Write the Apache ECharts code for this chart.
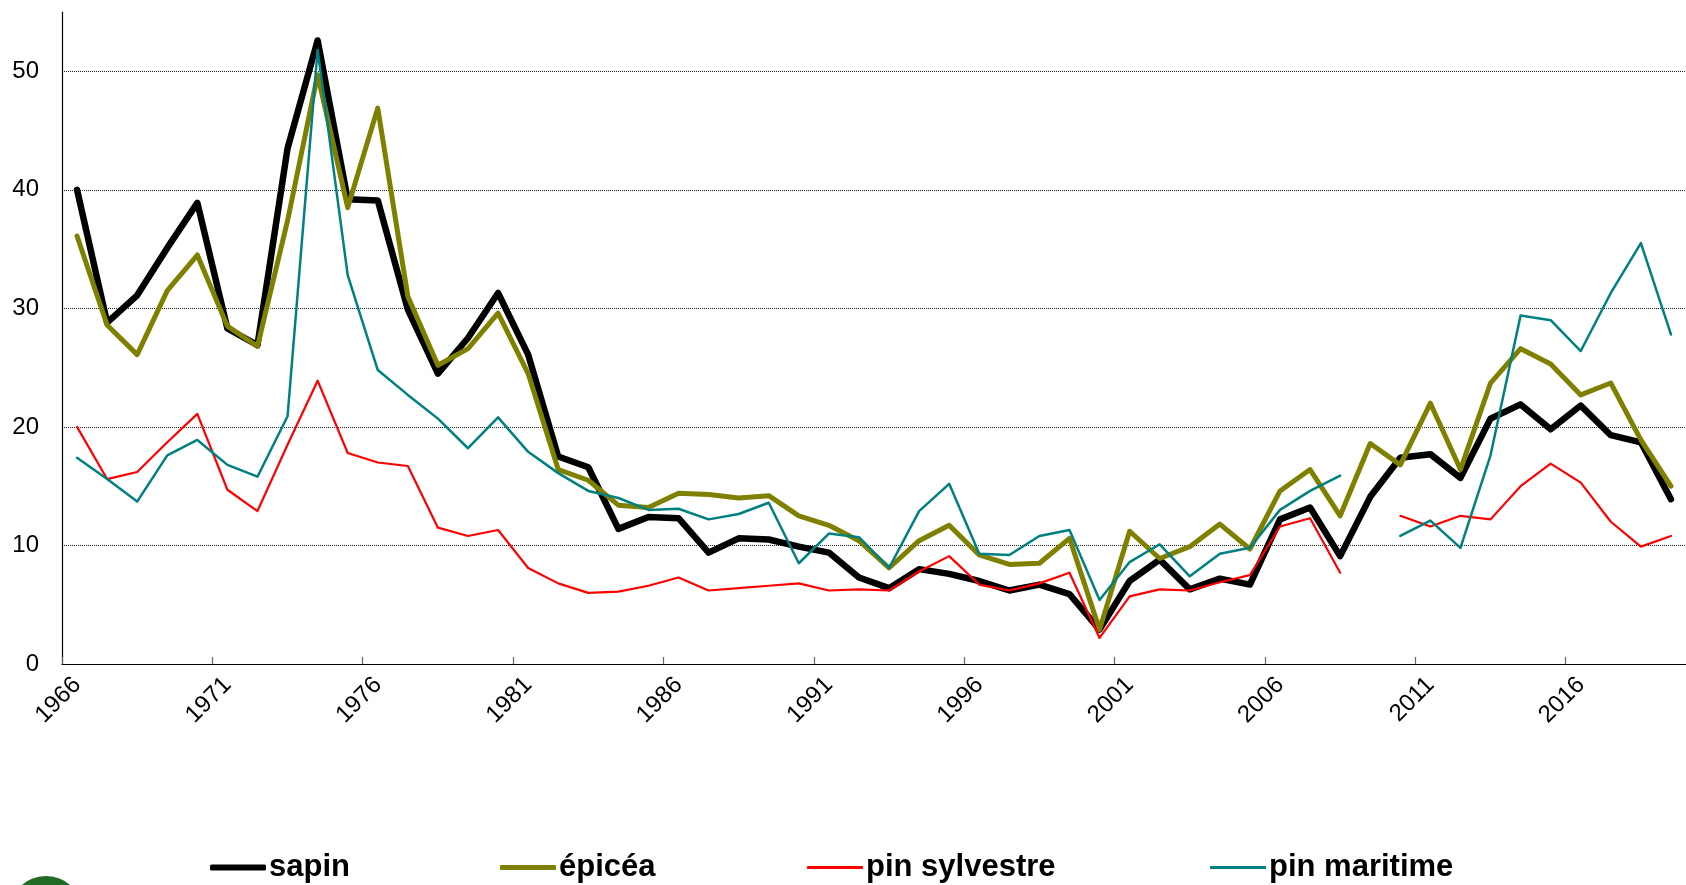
<!DOCTYPE html>
<html>
<head>
<meta charset="utf-8">
<script src="https://cdn.jsdelivr.net/npm/echarts@6/dist/echarts.min.js"></script>
<style>
html, body { margin: 0; padding: 0; background: #fff; overflow: hidden; }
#chart { width: 1686px; height: 885px; }
</style>
</head>
<body>
<div id="chart"></div>
<script>
// years 1966 -> 2019
const years = []
for (let y = 1966; y <= 2019; y++) years.push(y)

const sapin = [
  40.0, 28.8, 31.1, 35.1, 38.9, 28.3, 26.9, 43.5, 52.6, 39.2,
  39.1, 29.9, 24.5, 27.5, 31.3, 26.1, 17.5, 16.6, 11.4, 12.4,
  12.3, 9.4, 10.6, 10.5, 9.9, 9.4, 7.3, 6.4, 8.0, 7.6,
  7.0, 6.2, 6.7, 5.9, 2.9, 7.0, 8.8, 6.3, 7.2, 6.7,
  12.2, 13.2, 9.1, 14.1, 17.4, 17.7, 15.7, 20.7, 21.9, 19.8,
  21.8, 19.3, 18.7, 13.9
]
const epicea = [
  36.1, 28.6, 26.1, 31.5, 34.5, 28.5, 26.8, 37.4, 49.7, 38.5,
  46.9, 31.0, 25.2, 26.6, 29.6, 24.5, 16.4, 15.5, 13.4, 13.2,
  14.4, 14.3, 14.0, 14.2, 12.5, 11.7, 10.4, 8.1, 10.4, 11.7,
  9.2, 8.4, 8.5, 10.6, 2.9, 11.2, 8.9, 9.9, 11.8, 9.7,
  14.6, 16.4, 12.5, 18.6, 16.8, 22.0, 16.4, 23.7, 26.6, 25.3,
  22.7, 23.7, 18.9, 15.0
]
const pinSylvestre = [
  20.0, 15.6, 16.2, 18.7, 21.1, 14.7, 12.9, 18.5, 23.9, 17.8,
  17.0, 16.7, 11.5, 10.8, 11.3, 8.1, 6.8, 6.0, 6.1, 6.6,
  7.3, 6.2, 6.4, 6.6, 6.8, 6.2, 6.3, 6.2, 7.8, 9.1,
  6.7, 6.2, 6.8, 7.7, 2.2, 5.7, 6.3, 6.2, 6.9, 7.5,
  11.6, 12.3, 7.7, null, 12.5, 11.6, 12.5, 12.2, 15.0, 16.9,
  15.3, 12.0, 9.9, 10.8
]
const pinMaritime = [
  17.4, 15.6, 13.7, 17.6, 18.9, 16.8, 15.8, 20.9, 51.8, 32.8,
  24.8, 22.7, 20.7, 18.2, 20.8, 17.9, 16.1, 14.6, 14.0, 13.0,
  13.1, 12.2, 12.65, 13.6, 8.5, 11.0, 10.7, 8.1, 12.9, 15.2,
  9.3, 9.2, 10.8, 11.3, 5.4, 8.6, 10.1, 7.4, 9.3, 9.8,
  13.0, 14.6, 15.9, null, 10.8, 12.1, 9.8, 17.6, 29.4, 29.0,
  26.4, 31.3, 35.5, 27.8
]
const yTicks = [0, 10, 20, 30, 40, 50]

const names = ['sapin', 'épicéa', 'pin sylvestre', 'pin maritime']
const colors = ['#000000', '#808000', '#ff0000', '#008080']
const widths = [6.5, 5, 2.2, 2.5]
const values = [sapin, epicea, pinSylvestre, pinMaritime]

const font = '"Liberation Sans", Arial, sans-serif'

function pairs(arr) {
  return years.map((y, i) => [y, arr[i] == null ? '-' : arr[i]])
}

const myChart = echarts.init(document.getElementById('chart'))

const legendLeft = [210, 500, 807, 1210]
const legendIconH = [6, 5, 3, 3]

let option = {
  animation: false,
  grid: {
    left: 62,
    right: -17,
    top: 12,
    bottom: 221
  },
  xAxis: {
    type: 'value',
    min: 1965.5,
    max: 2019.5,
    interval: 5,
    axisLine: { show: true, onZero: false, lineStyle: { color: '#000', width: 1.2 } },
    axisTick: { show: true, inside: true, length: 7, lineStyle: { color: '#666', width: 1.2 } },
    splitLine: { show: false },
    axisLabel: {
      rotate: 45,
      margin: 2,
      verticalAlign: 'top',
      lineHeight: 43,
      fontSize: 24,
      fontFamily: font,
      color: '#000',
      showMaxLabel: false,
      formatter: v => String(Math.round(v + 0.5))
    }
  },
  yAxis: {
    type: 'value',
    min: yTicks[0],
    max: 55,
    interval: 10,
    axisLine: { show: true, lineStyle: { color: '#000', width: 1.2 } },
    axisTick: { show: false },
    splitLine: {
      show: true,
      showMaxLine: false,
      lineStyle: {
        color: ['#222', '#222', '#222', '#222', '#222', '#222', 'rgba(0,0,0,0)'],
        type: 'dotted',
        width: 1
      }
    },
    axisLabel: {
      margin: 23,
      fontSize: 24,
      fontFamily: font,
      color: '#000',
      showMaxLabel: false,
      formatter: v => yTicks.indexOf(v) >= 0 ? String(v) : ''
    }
  },
  legend: names.map((n, i) => ({
    data: [n],
    left: legendLeft[i],
    top: 852,
    padding: 0,
    icon: 'roundRect',
    itemWidth: 56,
    itemHeight: legendIconH[i],
    selectedMode: false,
    textStyle: { fontSize: 31, fontWeight: 'bold', fontFamily: font, color: '#000', padding: [0, 0, 0, -2] }
  })),
  graphic: [{
    type: 'circle',
    shape: { cx: 46, cy: 913, r: 37 },
    style: { fill: '#1f6b25' }
  }],
  series: names.map((n, i) => ({
    name: n,
    type: 'line',
    data: pairs(values[i]),
    symbol: 'none',
    connectNulls: false,
    color: colors[i],
    lineStyle: { color: colors[i], width: widths[i], join: 'round', cap: 'round' },
    z: 2 + i
  }))
}
myChart.setOption(option)
</script>
</body>
</html>
